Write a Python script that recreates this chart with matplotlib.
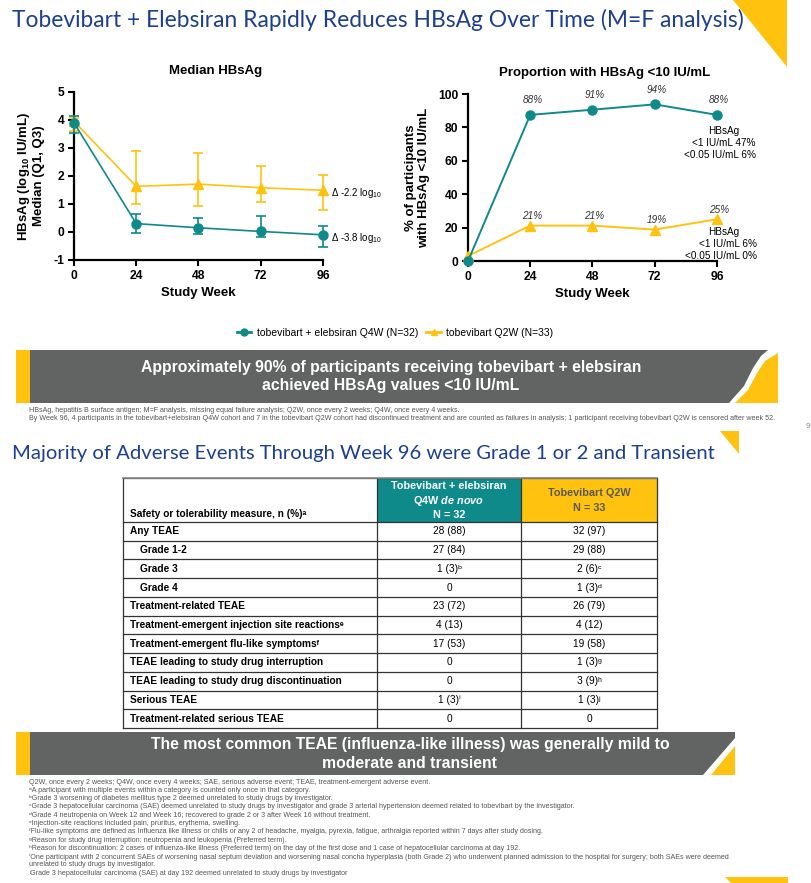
import matplotlib
matplotlib.use('Agg')
import matplotlib.pyplot as plt
from matplotlib.patches import Rectangle, Polygon
from matplotlib.lines import Line2D

plt.rcParams['font.family'] = ['Liberation Sans', 'DejaVu Sans']
plt.rcParams['axes.unicode_minus'] = False
plt.rcParams['mathtext.fontset'] = 'custom'
plt.rcParams['mathtext.rm'] = 'Liberation Sans'
plt.rcParams['mathtext.it'] = 'Liberation Sans:italic'
plt.rcParams['mathtext.bf'] = 'Liberation Sans:bold'
plt.rcParams['mathtext.bfit'] = 'Liberation Sans:italic:bold'

# ---------------- data ----------------
weeks = [0, 24, 48, 72, 96]
median_combo = [3.90, 0.30, 0.15, 0.02, -0.10]
q1_combo = [3.52, -0.02, -0.07, -0.17, -0.52]
q3_combo = [4.13, 0.63, 0.50, 0.57, 0.22]
median_mono = [3.95, 1.63, 1.71, 1.58, 1.49]
q1_mono = [3.62, 0.99, 0.93, 1.07, 0.80]
q3_mono = [4.08, 2.90, 2.83, 2.37, 2.05]
delta_labels = ['Δ -2.2 log$_{10}$', 'Δ -3.8 log$_{10}$']

pct_combo = [0.0, 87.5, 90.6, 93.8, 87.5]
pct_mono = [3.0, 21.2, 21.2, 18.8, 25.0]
pct_combo_labels = ['', '88%', '91%', '94%', '88%']
pct_mono_labels = ['', '21%', '21%', '19%', '25%']
combo_sub = ['HBsAg', '<1 IU/mL 47%', '<0.05 IU/mL 6%']
mono_sub = ['HBsAg', '<1 IU/mL 6%', '<0.05 IU/mL 0%']

series_names = ['tobevibart + elebsiran Q4W (N=32)', 'tobevibart Q2W (N=33)']

table_header = ['Safety or tolerability measure, n (%)ᵃ',
                'Tobevibart + elebsiran\nQ4W de novo\nN = 32',
                'Tobevibart Q2W\nN = 33']
row_labels = ['Any TEAE', 'Grade 1-2', 'Grade 3', 'Grade 4',
              'Treatment-related TEAE',
              'Treatment-emergent injection site reactionsᵉ',
              'Treatment-emergent flu-like symptomsᶠ',
              'TEAE leading to study drug interruption',
              'TEAE leading to study drug discontinuation',
              'Serious TEAE', 'Treatment-related serious TEAE']
row_level = [0, 1, 1, 1, 0, 0, 0, 0, 0, 0, 0]
combo_vals = ['28 (88)', '27 (84)', '1 (3)ᵇ', '0', '23 (72)', '4 (13)',
              '17 (53)', '0', '0', '1 (3)ⁱ', '0']
mono_vals = ['32 (97)', '29 (88)', '2 (6)ᶜ', '1 (3)ᵈ', '26 (79)', '4 (12)',
             '19 (58)', '1 (3)ᵍ', '3 (9)ʰ', '1 (3)ʲ', '0']

title1 = 'Tobevibart + Elebsiran Rapidly Reduces HBsAg Over Time (M=F analysis)'
title2 = 'Majority of Adverse Events Through Week 96 were Grade 1 or 2 and Transient'
banner1 = ('Approximately 90% of participants receiving tobevibart + elebsiran\n'
           'achieved HBsAg values <10 IU/mL')
banner2 = ('The most common TEAE (influenza-like illness) was generally mild to\n'
           'moderate and transient')
foot1 = ['HBsAg, hepatitis B surface antigen; M=F analysis, missing equal failure analysis; Q2W, once every 2 weeks; Q4W, once every 4 weeks.',
         'By Week 96, 4 participants in the tobevibart+elebsiran Q4W cohort and 7 in the tobevibart Q2W cohort had discontinued treatment and are counted as failures in analysis; 1 participant receiving tobevibart Q2W is censored after week 52.']
foot2 = ['Q2W, once every 2 weeks; Q4W, once every 4 weeks; SAE, serious adverse event; TEAE, treatment-emergent adverse event.',
         'ᵃA participant with multiple events within a category is counted only once in that category.',
         'ᵇGrade 3 worsening of diabetes mellitus type 2 deemed unrelated to study drugs by investigator.',
         'ᶜGrade 3 hepatocellular carcinoma (SAE) deemed unrelated to study drugs by investigator and grade 3 arterial hypertension deemed related to tobevibart by the investigator.',
         'ᵈGrade 4 neutropenia on Week 12 and Week 16; recovered to grade 2 or 3 after Week 16 without treatment.',
         'ᵉInjection-site reactions included pain, pruritus, erythema, swelling.',
         'ᶠFlu-like symptoms are defined as Influenza like illness or chills or any 2 of headache, myalgia, pyrexia, fatigue, arthralgia reported within 7 days after study dosing.',
         'ᵍReason for study drug interruption: neutropenia and leukopenia (Preferred term).',
         'ʰReason for discontinuation: 2 cases of influenza-like illness (Preferred term) on the day of the first dose and 1 case of hepatocellular carcinoma at day 192.',
         'ⁱOne participant with 2 concurrent SAEs of worsening nasal septum deviation and worsening nasal concha hyperplasia (both Grade 2) who underwent planned admission to the hospital for surgery; both SAEs were deemed',
         'unrelated to study drugs by investigator.',
         'ʲGrade 3 hepatocellular carcinoma (SAE) at day 192 deemed unrelated to study drugs by investigator']

# ---------------- style ----------------
W, H = 812, 883
TEAL = '#0E8A8A'
YEL = '#FFC20E'
GRAY = '#616462'
BLUE = '#1D3F8F'
FOOT = '#555555'
NARROW = ['Liberation Sans Narrow', 'Liberation Sans', 'DejaVu Sans']
LATO = ['Lato', 'DejaVu Sans']


def prect(x0, y0, x1, y1):
    return [x0 / W, 1 - y1 / H, (x1 - x0) / W, (y1 - y0) / H]


fig = plt.figure(figsize=(W / 100, H / 100), dpi=100)
bg = fig.add_axes([0, 0, 1, 1], zorder=0)
bg.set_xlim(0, W)
bg.set_ylim(H, 0)
bg.axis('off')

# decorative shapes
bg.add_patch(Polygon([(733, 0), (787, 0), (787, 67)], closed=True, color=YEL, lw=0))
bg.add_patch(Polygon([(720, 431), (739, 431), (739, 454)], closed=True, color=YEL, lw=0))
bg.add_patch(Polygon([(725, 877), (788, 877), (788, 883), (731, 883)], closed=True, color=YEL, lw=0))

# titles
bg.text(12, 20, title1, fontsize=16.4, color=BLUE, family=LATO, va='center', ha='left')
bg.text(12, 453, title2, fontsize=14.6, color=BLUE, family=LATO, va='center', ha='left')

# banner 1
bg.add_patch(Rectangle((16, 350), 14, 53, color=YEL, lw=0))
bg.add_patch(Polygon([(30, 350), (768, 350), (761, 356), (753, 368), (744, 386), (729, 403), (30, 403)],
                     closed=True, color=GRAY, lw=0))
bg.add_patch(Polygon([(778, 353), (778, 403), (735, 403), (748, 390), (757, 373), (765, 361)],
                     closed=True, color=YEL, lw=0))
bg.text(391, 376.5, banner1, fontsize=11.3, color='white', fontweight='bold',
        ha='center', va='center', linespacing=1.3)

# banner 2
bg.add_patch(Rectangle((16, 732), 14, 43, color=YEL, lw=0))
bg.add_patch(Polygon([(30, 732), (735, 732), (735, 738), (703, 775), (30, 775)],
                     closed=True, color=GRAY, lw=0))
bg.add_patch(Polygon([(735, 746), (735, 775), (711, 775)], closed=True, color=YEL, lw=0))
bg.text(410, 754, banner2, fontsize=11.3, color='white', fontweight='bold',
        ha='center', va='center', linespacing=1.25)

# footnotes
for i, s in enumerate(foot1):
    bg.text(29, 411 + i * 8, s, fontsize=5.1, color=FOOT, family=NARROW, va='center', ha='left')
for i, s in enumerate(foot2):
    bg.text(29, 782 + i * 8.3, s, fontsize=5.1, color=FOOT, family=NARROW, va='center', ha='left')

bg.text(806, 427, '9', fontsize=6, color='#888888', va='center', ha='left')

# ---------------- table ----------------
cx = [123, 377, 521, 657]
top, hdr_bot = 478, 522
rh = (728 - hdr_bot) / len(row_labels)
bg.add_patch(Rectangle((cx[1], top), cx[2] - cx[1], hdr_bot - top, facecolor=TEAL, edgecolor='none'))
bg.add_patch(Rectangle((cx[2], top), cx[3] - cx[2], hdr_bot - top, facecolor=YEL, edgecolor='none'))
ys = [top, hdr_bot] + [hdr_bot + rh * (i + 1) for i in range(len(row_labels))]
for y in ys:
    bg.plot([cx[0], cx[3]], [y, y], color='#333333', lw=0.9)
for x in cx:
    bg.plot([x, x], [top, ys[-1]], color='#333333', lw=0.9)
bg.plot([cx[0], cx[3]], [top, top], color='#888888', lw=1.2)

FS = 7.3
bg.text(cx[0] + 7, hdr_bot - 8, table_header[0], fontsize=FS, fontweight='bold',
        ha='left', va='center')
bg.text((cx[1] + cx[2]) / 2, 486, 'Tobevibart + elebsiran', fontsize=7.8, fontweight='bold',
        color='white', ha='center', va='center')
bg.text((cx[1] + cx[2]) / 2, 501, r'Q4W $\mathbfit{de\ novo}$', fontsize=7.8, fontweight='bold',
        color='white', ha='center', va='center')
bg.text((cx[1] + cx[2]) / 2, 515, 'N = 32', fontsize=7.8, fontweight='bold',
        color='white', ha='center', va='center')
bg.text((cx[2] + cx[3]) / 2, 493, 'Tobevibart Q2W', fontsize=7.8, fontweight='bold',
        color='#5A5A5A', ha='center', va='center')
bg.text((cx[2] + cx[3]) / 2, 508, 'N = 33', fontsize=7.8, fontweight='bold',
        color='#5A5A5A', ha='center', va='center')

for i, lab in enumerate(row_labels):
    yc = hdr_bot + rh * (i + 0.5)
    bg.text(cx[0] + 7 + 10 * row_level[i], yc, lab, fontsize=FS, fontweight='bold',
            ha='left', va='center')
    bg.text((cx[1] + cx[2]) / 2, yc, combo_vals[i], fontsize=FS, ha='center', va='center')
    bg.text((cx[2] + cx[3]) / 2, yc, mono_vals[i], fontsize=FS, ha='center', va='center')


# ---------------- charts ----------------
def style_axes(ax):
    ax.set_facecolor('none')
    for s in ['top', 'right']:
        ax.spines[s].set_visible(False)
    for s in ['left', 'bottom']:
        ax.spines[s].set_linewidth(1.6)
    ax.tick_params(direction='out', length=4, width=1.5, labelsize=8.7, pad=3)
    for lab in ax.get_xticklabels() + ax.get_yticklabels():
        lab.set_fontweight('bold')
    ax.set_xticks(weeks)


# left chart
ax1 = fig.add_axes(prect(74, 92, 323, 260), zorder=2)
e_m = [[m - q for m, q in zip(median_mono, q1_mono)], [q - m for m, q in zip(median_mono, q3_mono)]]
e_c = [[m - q for m, q in zip(median_combo, q1_combo)], [q - m for m, q in zip(median_combo, q3_combo)]]
ax1.errorbar(weeks, median_mono, yerr=e_m, color=YEL, marker='^', ms=6.5, lw=1.2,
             elinewidth=1.2, capsize=3.5, capthick=1.2, clip_on=False, zorder=3)
ax1.errorbar(weeks, median_combo, yerr=e_c, color=TEAL, marker='o', ms=6.5, lw=1.2,
             elinewidth=1.2, capsize=3.5, capthick=1.2, clip_on=False, zorder=4)
ax1.set_xlim(0, 96)
ax1.set_ylim(-1, 5)
ax1.set_yticks(range(-1, 6))
style_axes(ax1)
ax1.set_xlabel('Study Week', fontsize=9.5, fontweight='bold', labelpad=4)
ax1.set_ylabel('HBsAg (log$_{\\mathbf{10}}$ IU/mL)\nMedian (Q1, Q3)', fontsize=9.5,
               fontweight='bold', labelpad=6, linespacing=1.1)
ax1.text(99, 1.38, delta_labels[0], fontsize=7, va='center', ha='left')
ax1.text(99, -0.2, delta_labels[1], fontsize=7, va='center', ha='left')
bg.text(216, 71, 'Median HBsAg', fontsize=9.5, fontweight='bold', ha='center', va='center')

# right chart
ax2 = fig.add_axes(prect(468, 94, 717, 261), zorder=2)
ax2.plot(weeks, pct_mono, color=YEL, marker='^', ms=6.5, lw=1.4, clip_on=False, zorder=3)
ax2.plot(weeks, pct_combo, color=TEAL, marker='o', ms=6.5, lw=1.4, clip_on=False, zorder=4)
ax2.set_xlim(0, 96)
ax2.set_ylim(0, 100)
ax2.set_yticks(range(0, 101, 20))
style_axes(ax2)
ax2.set_xlabel('Study Week', fontsize=9.5, fontweight='bold', labelpad=4)
ax2.set_ylabel('% of participants\nwith HBsAg <10 IU/mL', fontsize=9.5, fontweight='bold',
               labelpad=6, linespacing=1.1)
for x, y, s in zip(weeks, pct_combo, pct_combo_labels):
    if s:
        ax2.annotate(s, (x, y), xytext=(1.5, 7), textcoords='offset points', fontsize=7.2,
                     style='italic', ha='center', va='bottom', color='#333333')
for x, y, s in zip(weeks, pct_mono, pct_mono_labels):
    if s:
        ax2.annotate(s, (x, y), xytext=(1.5, 3), textcoords='offset points', fontsize=7.2,
                     style='italic', ha='center', va='bottom', color='#333333')
for i, s in enumerate(combo_sub):
    if i == 0:
        ax2.text(98.6, 77.6, s, fontsize=7.2, ha='center', va='center')
    else:
        ax2.text(111, 77.6 - 7 * i, s, fontsize=7.2, ha='right', va='center')
for i, s in enumerate(mono_sub):
    if i == 0:
        ax2.text(98.6, 17.6, s, fontsize=7.2, ha='center', va='center')
    else:
        ax2.text(111.5, 17.6 - 7.2 * i, s, fontsize=7.2, ha='right', va='center')
bg.text(605, 73, 'Proportion with HBsAg <10 IU/mL', fontsize=9.5, fontweight='bold',
        ha='center', va='center')

# legend
handles = [Line2D([], [], color=TEAL, marker='o', lw=2, ms=5),
           Line2D([], [], color=YEL, marker='^', lw=2, ms=5)]
fig.legend(handles, series_names, loc='center', bbox_to_anchor=(395 / W, 1 - 333 / H),
           ncol=2, frameon=False, fontsize=7.5, handlelength=1.4, columnspacing=0.8,
           handletextpad=0.5)

fig.savefig('out.png', dpi=100)
